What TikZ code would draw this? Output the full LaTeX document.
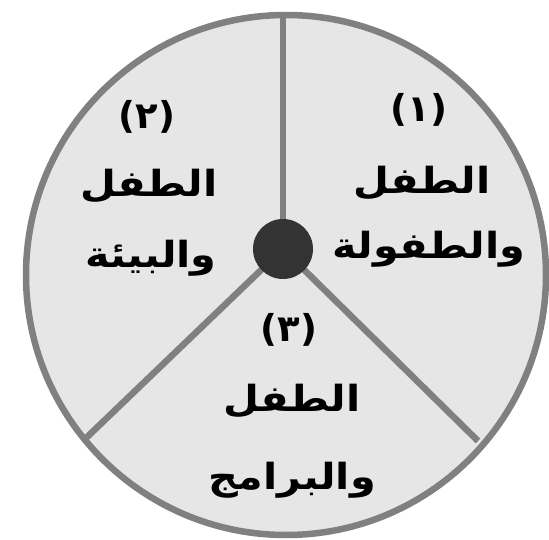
\documentclass[tikz,border=0pt]{standalone}
\usepackage{fontspec}
\newfontfamily\arabicfont[Script=Arabic]{DejaVu Sans}
\newfontfamily\arabicwide[Script=Arabic,FakeStretch=1.15]{DejaVu Sans}
\TeXXeTstate=1
\definecolor{rim}{HTML}{808080}
\definecolor{face}{HTML}{E6E6E6}
\definecolor{hub}{HTML}{333333}
\begin{document}
\begin{tikzpicture}[x=1pt,y=-1pt,
  lbl/.style={font=\arabicwide\bfseries\fontsize{36}{40}\selectfont, inner sep=0pt, text=black},
  num/.style={font=\arabicfont\bfseries\fontsize{37}{40}\selectfont, inner sep=0pt, text=black},
  spoke/.style={draw=rim, line width=6.5pt}]
\useasboundingbox (0,0) rectangle (549,540);
\fill[white] (0,0) rectangle (549,540);
\node[circle, minimum size=520pt, draw=rim, fill=face, line width=6.5pt, inner sep=0pt] (disc) at (286,275) {};
\coordinate (c) at (283,249);
\coordinate (top) at (283,12);
\coordinate (ll) at (84,440);
\coordinate (lr) at (478,441);
\draw[spoke] (c) -- (top);
\draw[spoke] (c) -- (ll);
\draw[spoke] (c) -- (lr);
\node[circle, fill=hub, minimum size=60pt, inner sep=0pt] (hubdot) at (c) {};
\node[num] (n1) at (419,110) {(١)};
\node[lbl] (a1) at (422,183) {\beginR الطفل\endR};
\node[lbl] (b1) at (429,249) {\beginR والطفولة\endR};
\node[num] (n2) at (147,117) {(٢)};
\node[lbl] (a2) at (149,186) {\beginR الطفل\endR};
\node[lbl] (b2) at (151,258) {\beginR والبيئة\endR};
\node[num] (n3) at (289,330) {(٣)};
\node[lbl] (a3) at (292,401) {\beginR الطفل\endR};
\node[lbl] (b3) at (292,480) {\beginR والبرامج\endR};
\end{tikzpicture}
\end{document}
